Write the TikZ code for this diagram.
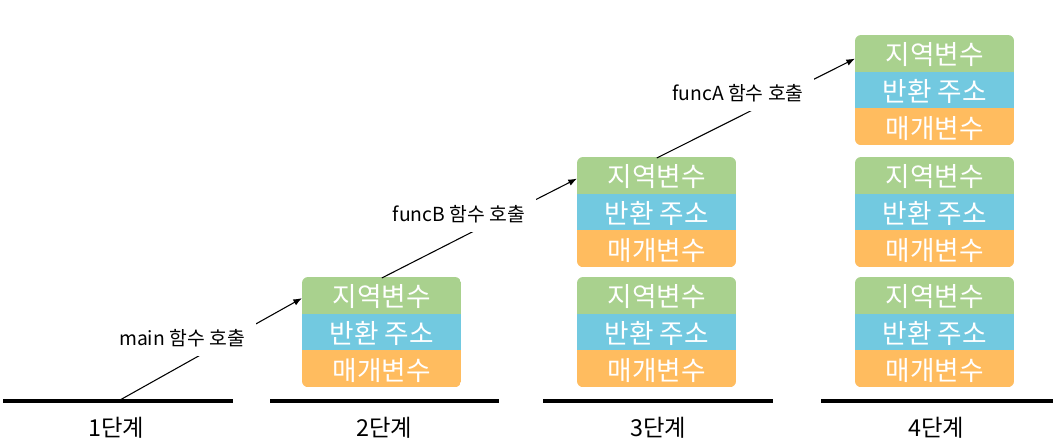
\documentclass[tikz,border=0pt]{standalone}
\usepackage{fontspec}
\setmainfont{Noto Sans CJK KR}
\usetikzlibrary{arrows.meta,calc}
\definecolor{grn}{HTML}{A9D18E}
\definecolor{blu}{HTML}{72C9E0}
\definecolor{org}{HTML}{FFBC5F}
\tikzset{
  rowtxt/.style={text=white, font=\fontsize{20}{22}\selectfont, inner sep=0pt,
    minimum width=159*0.75pt, minimum height=36.7*0.75pt, anchor=north west},
  calllbl/.style={fill=white, font=\fontsize{14.5}{16}\selectfont, inner xsep=8pt,
    inner ysep=0pt, minimum height=35*0.75pt},
  stagelbl/.style={font=\fontsize{17.5}{19}\selectfont, inner sep=1pt},
  ground/.style={line width=3pt},
  callarrow/.style={line width=0.8pt, -{Latex[length=6.5pt,width=5pt]}},
}
\newcommand\memstack[3]{% name, left x, top y
  \begin{scope}
    \clip[rounded corners=4.5pt] (#2,#3) rectangle ++(159,110.1);
    \fill[grn] (#2,#3) rectangle ++(159,36.7);
    \fill[blu] (#2,#3+36.7) rectangle ++(159,36.7);
    \fill[org] (#2,#3+73.4) rectangle ++(159,36.7);
  \end{scope}
  \node[rowtxt] (#1g) at (#2,#3+1) {지역변수};
  \node[rowtxt] (#1b) at (#2,#3+37.7) {반환 주소};
  \node[rowtxt] (#1o) at (#2,#3+74.4) {매개변수};
}
\begin{document}
\begin{tikzpicture}[x=0.75pt,y=-0.75pt]
\useasboundingbox (0,0) rectangle (1055,447);
% ground lines
\draw[ground] (3,400.5) -- (233,400.5);
\draw[ground] (270,400.5) -- (499,400.5);
\draw[ground] (543,400.5) -- (773,400.5);
\draw[ground] (821,400.5) -- (1053,400.5);
% stage labels
\node[stagelbl] (l1) at (116,428) {1단계};
\node[stagelbl] (l2) at (384,428) {2단계};
\node[stagelbl] (l3) at (658,428) {3단계};
\node[stagelbl] (l4) at (936,428) {4단계};
% stacks
\memstack{sb}{302}{277}
\memstack{sca}{577}{157}
\memstack{scb}{577}{277}
\memstack{sda}{855}{35}
\memstack{sdb}{855}{157}
\memstack{sdc}{855}{277}
% connectors
\coordinate (start) at (120,400);
\draw[callarrow] (start) -- ($(sbg.west)+(0,1.5)$);
\draw[callarrow] (sbg.north) -- ($(scag.west)+(0,2)$);
\draw[callarrow] (scag.north) -- ($(sdag.west)+(0,4)$);
% call labels
\node[calllbl] (cm) at (182,338.5) {main 함수 호출};
\node[calllbl] (cb) at (459,214) {funcB 함수 호출};
\node[calllbl] (ca) at (738,93) {funcA 함수 호출};
\end{tikzpicture}
\end{document}
